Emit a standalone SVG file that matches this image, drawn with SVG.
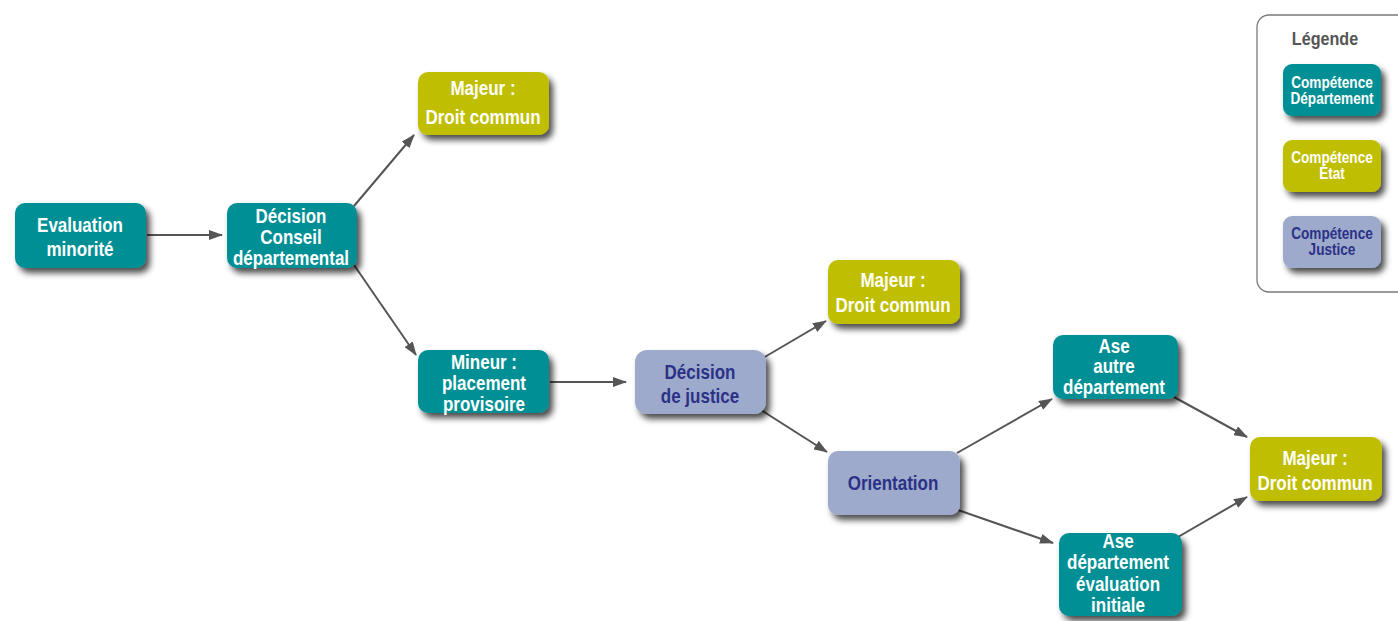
<svg xmlns="http://www.w3.org/2000/svg" width="1398" height="621" viewBox="0 0 1398 621">
<style>
.t{font-family:"Liberation Sans",Arial,sans-serif;font-weight:bold;font-size:20px;text-anchor:middle;fill:#ffffff}
.s{font-size:16px}
.dep{fill:#028f94}
.eta{fill:#bfbe00}
.jus{fill:#9eaacb}
.jt{fill:#2b3187}
.c{stroke:#555555;stroke-width:2;fill:none;marker-end:url(#ah)}
</style>
<defs>
<filter id="sh" x="-20%" y="-20%" width="150%" height="170%">
<feDropShadow dx="4" dy="5" stdDeviation="3" flood-color="#000" flood-opacity="0.7"/>
</filter>
<marker id="ah" markerWidth="14" markerHeight="10" refX="13" refY="5" orient="auto" markerUnits="userSpaceOnUse">
<path d="M0,0 L14,5 L0,10 Z" fill="#555555"/>
</marker>
</defs>
<rect width="1398" height="621" fill="#ffffff"/>

<g id="legend">
<rect x="1257" y="15" width="160" height="277" rx="12" fill="#ffffff" stroke="#7a7a7a" stroke-width="1.3"/>
<text class="t" transform="translate(1325,45) scale(0.85,1)" style="fill:#555555;font-size:19px">Légende</text>
<rect class="dep" x="1283" y="64" width="98" height="52" rx="9" filter="url(#sh)"/>
<text class="t s" transform="translate(1332,88) scale(0.85,1)">Compétence</text>
<text class="t s" transform="translate(1332,104) scale(0.85,1)">Département</text>
<rect class="eta" x="1283" y="140" width="98" height="52" rx="9" filter="url(#sh)"/>
<text class="t s" transform="translate(1332,163) scale(0.85,1)">Compétence</text>
<text class="t s" transform="translate(1332,179) scale(0.85,1)">État</text>
<rect class="jus" x="1283" y="216" width="98" height="52" rx="9" filter="url(#sh)"/>
<text class="t s jt" transform="translate(1332,239) scale(0.85,1)">Compétence</text>
<text class="t s jt" transform="translate(1332,255) scale(0.85,1)">Justice</text>
</g>

<g id="connectors">
<line class="c" x1="147" y1="235" x2="222" y2="235"/>
<line class="c" x1="354" y1="206" x2="414" y2="135"/>
<line class="c" x1="354" y1="265" x2="416" y2="355"/>
<line class="c" x1="550" y1="382" x2="626" y2="382"/>
<line class="c" x1="763" y1="358" x2="826" y2="321"/>
<line class="c" x1="761" y1="410" x2="827" y2="452"/>
<line class="c" x1="957" y1="453" x2="1052" y2="399"/>
<line class="c" x1="958" y1="510" x2="1053" y2="543"/>
<line class="c" x1="1174" y1="397" x2="1247" y2="437"/>
<line class="c" x1="1178" y1="537" x2="1247" y2="497"/>
</g>

<g id="n-eval">
<rect class="dep" x="15" y="203" width="131" height="65" rx="10" filter="url(#sh)"/>
<text class="t" transform="translate(80,232) scale(0.85,1)">Evaluation</text>
<text class="t" transform="translate(80,256) scale(0.85,1)">minorité</text>
</g>
<g id="n-decision-cd">
<rect class="dep" x="227" y="203" width="130" height="65" rx="10" filter="url(#sh)"/>
<text class="t" transform="translate(291,223) scale(0.85,1)">Décision</text>
<text class="t" transform="translate(291,244) scale(0.85,1)">Conseil</text>
<text class="t" transform="translate(291,265) scale(0.85,1)">départemental</text>
</g>
<g id="n-majeur-1">
<rect class="eta" x="418" y="72" width="131" height="63" rx="10" filter="url(#sh)"/>
<text class="t" transform="translate(483,95) scale(0.85,1)">Majeur :</text>
<text class="t" transform="translate(483,124) scale(0.85,1)">Droit commun</text>
</g>
<g id="n-mineur">
<rect class="dep" x="418" y="350" width="131" height="63" rx="10" filter="url(#sh)"/>
<text class="t" transform="translate(484,369) scale(0.85,1)">Mineur :</text>
<text class="t" transform="translate(484,390) scale(0.85,1)">placement</text>
<text class="t" transform="translate(484,411) scale(0.85,1)">provisoire</text>
</g>
<g id="n-decision-justice">
<rect class="jus" x="635" y="350" width="131" height="64" rx="12" filter="url(#sh)"/>
<text class="t jt" transform="translate(700,379) scale(0.85,1)">Décision</text>
<text class="t jt" transform="translate(700,403) scale(0.85,1)">de justice</text>
</g>
<g id="n-majeur-2">
<rect class="eta" x="828" y="260" width="132" height="64" rx="10" filter="url(#sh)"/>
<text class="t" transform="translate(893,287) scale(0.85,1)">Majeur :</text>
<text class="t" transform="translate(893,312) scale(0.85,1)">Droit commun</text>
</g>
<g id="n-orientation">
<rect class="jus" x="828" y="451" width="132" height="64" rx="10" filter="url(#sh)"/>
<text class="t jt" transform="translate(893,490) scale(0.85,1)">Orientation</text>
</g>
<g id="n-ase-autre">
<rect class="dep" x="1053" y="335" width="125" height="64" rx="10" filter="url(#sh)"/>
<text class="t" transform="translate(1114,353) scale(0.85,1)">Ase</text>
<text class="t" transform="translate(1114,373) scale(0.85,1)">autre</text>
<text class="t" transform="translate(1114,394) scale(0.85,1)">département</text>
</g>
<g id="n-ase-dep">
<rect class="dep" x="1059" y="533" width="123" height="83" rx="10" filter="url(#sh)"/>
<text class="t" transform="translate(1118,548) scale(0.85,1)">Ase</text>
<text class="t" transform="translate(1118,569) scale(0.85,1)">département</text>
<text class="t" transform="translate(1118,591) scale(0.85,1)">évaluation</text>
<text class="t" transform="translate(1118,612) scale(0.85,1)">initiale</text>
</g>
<g id="n-majeur-3">
<rect class="eta" x="1250" y="437" width="132" height="64" rx="10" filter="url(#sh)"/>
<text class="t" transform="translate(1315,465) scale(0.85,1)">Majeur :</text>
<text class="t" transform="translate(1315,490) scale(0.85,1)">Droit commun</text>
</g>
</svg>
